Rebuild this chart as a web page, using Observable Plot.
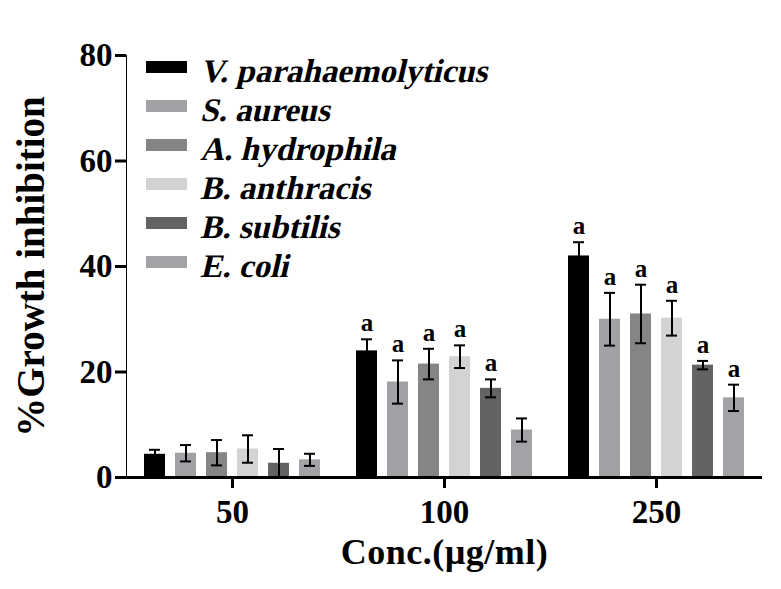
<!DOCTYPE html>
<html>
<head>
<meta charset="utf-8">
<script src="https://cdn.jsdelivr.net/npm/d3@7"></script>
<script src="https://cdn.jsdelivr.net/npm/@observablehq/plot@0.6"></script>
<style>
  html, body { margin: 0; padding: 0; background: #fff; }
  #wrap { position: relative; width: 781px; height: 589px; }
  #wrap svg text { font-family: "Liberation Serif", "Times New Roman", "DejaVu Serif", serif; font-weight: bold; fill: #000; }
  #wrap svg g[aria-label*="axis"] text { font-size: 33px; }
  #wrap svg g[aria-label="y-axis label"] text { font-size: 39px; }
  #wrap svg g[aria-label="fx-axis label"] text { font-size: 36px; letter-spacing: 0.5px; }
  #wrap svg g[aria-label*="axis"] path, #wrap svg g[aria-label*="axis"] line { stroke-width: 3px; stroke: #000; }
  #wrap svg g[aria-label="text"] text { font-size: 25px; }
  #wrap svg g.legend text { font-size: 33px; font-style: normal; text-anchor: start; }
</style>
</head>
<body>
<div id="wrap"></div>
<script>
const concentrations = ["50", "100", "250"];
const bacteria = ["V. parahaemolyticus", "S. aureus", "A. hydrophila", "B. anthracis", "B. subtilis", "E. coli"];
const colors = ["#000000", "#a2a2a6", "#858585", "#d3d3d3", "#636363", "#a3a3a7"];
const means50 = [4.4, 4.6, 4.7, 5.4, 2.7, 3.35];
const errs50 = [0.85, 1.55, 2.4, 2.6, 2.7, 1.15];
const means100 = [24.0, 18.1, 21.5, 22.9, 16.9, 9.0];
const errs100 = [2.2, 4.1, 2.9, 2.15, 1.7, 2.2];
const means250 = [42.0, 30.0, 31.0, 30.2, 21.3, 15.1];
const errs250 = [2.6, 5.0, 5.55, 3.3, 0.8, 2.5];
const sig50 = ["", "", "", "", "", ""];
const sig100 = ["a", "a", "a", "a", "a", ""];
const sig250 = ["a", "a", "a", "a", "a", "a"];
const yTicks = [0, 20, 40, 60, 80];

const groups = [
  [means50, errs50, sig50],
  [means100, errs100, sig100],
  [means250, errs250, sig250]
];
const rows = [];
concentrations.forEach((c, gi) => {
  const [m, e, s] = groups[gi];
  bacteria.forEach((b, i) => {
    rows.push({conc: c, bacterium: b, mean: m[i], lo: Math.max(0, m[i] - e[i]), hi: m[i] + e[i], sig: s[i]});
  });
});

const chart = Plot.plot({
  width: 781,
  height: 589,
  marginTop: 55,
  marginBottom: 112,
  marginLeft: 125,
  marginRight: 18,
  facet: {data: rows, x: "conc"},
  fx: {domain: concentrations, padding: 0, label: "Conc.(µg/ml)", labelAnchor: "center", labelOffset: 86, tickSize: 11, tickPadding: 11, axis: "bottom", labelArrow: "none"},
  x: {domain: bacteria, axis: null, paddingInner: 0.32, paddingOuter: 0.5},
  y: {domain: [0, 80], ticks: yTicks, tickSize: 11, tickPadding: 3, line: true, label: "%Growth inhibition", labelAnchor: "center", labelOffset: 110, labelArrow: "none"},
  color: {domain: bacteria, range: colors, type: "ordinal"},
  marks: [
    Plot.barY(rows, {x: "bacterium", y: "mean", fill: "bacterium"}),
    Plot.ruleX(rows, {x: "bacterium", y1: "lo", y2: "hi", stroke: "#000", strokeWidth: 2}),
    Plot.tickY(rows, {x: "bacterium", y: "hi", stroke: "#000", strokeWidth: 2, insetLeft: 5, insetRight: 5}),
    Plot.tickY(rows, {x: "bacterium", y: "lo", stroke: "#000", strokeWidth: 2, insetLeft: 5, insetRight: 5}),
    Plot.text(rows, {x: "bacterium", y: "hi", text: "sig", dy: -16, fill: "#000"}),
    Plot.ruleY([0], {stroke: "#000", strokeWidth: 3})
  ]
});

document.getElementById("wrap").appendChild(chart);

// Legend drawn inside the SVG (top-left of the plot area)
const lg = d3.select(chart).append("g").attr("class", "legend");
const legendY = d3.scalePoint().domain(bacteria).range([67, 262]);
const item = lg.selectAll("g").data(bacteria).join("g")
  .attr("transform", d => `translate(146,${legendY(d)})`);
item.append("rect")
  .attr("x", 0).attr("y", -6).attr("width", 41).attr("height", 12)
  .attr("fill", (d, i) => colors[i]);
item.append("text")
  .attr("text-anchor", "start")
  .attr("transform", "translate(54,15) skewX(-13)")
  .text(d => d);
</script>
</body>
</html>
